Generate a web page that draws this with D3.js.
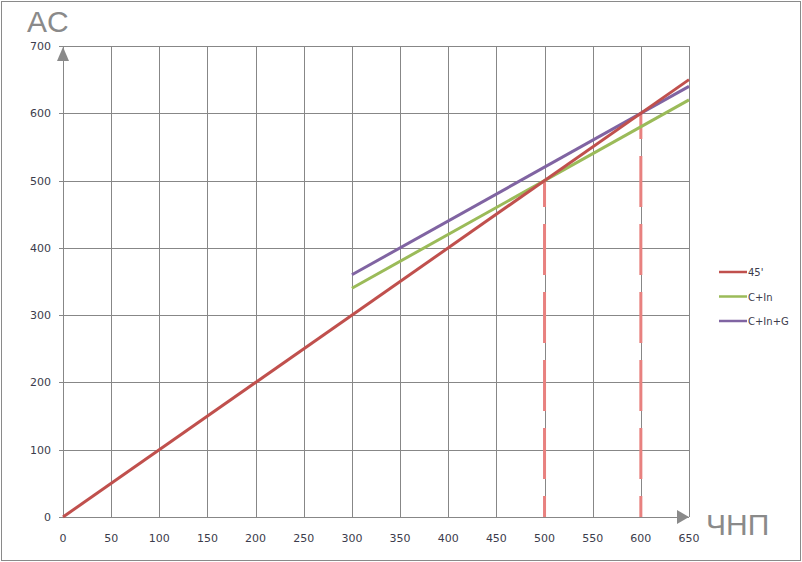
<!DOCTYPE html>
<html><head><meta charset="utf-8">
<script src="https://cdn.jsdelivr.net/npm/d3@7"></script>
<style>body{margin:0;background:#fff}svg{display:block}</style>
</head><body>
<svg id="c" width="802" height="562"></svg>
<script>
// ---- data ----
const seriesNames = ["45'", "C+In", "C+In+G"];
const line45 = [[0, 0], [650, 650]];
const lineCIn = [[300, 340], [650, 620]];
const lineCInG = [[300, 360], [650, 640]];
const dashedX = [500, 600];
const dashedTop = [500, 600];
const xTicks = [0, 50, 100, 150, 200, 250, 300, 350, 400, 450, 500, 550, 600, 650];
const yTicks = [0, 100, 200, 300, 400, 500, 600, 700];
const xAxisLabel = "ЧНП";
const yAxisLabel = "AC";

// ---- layout ----
const svg = d3.select("#c");
const x = d3.scaleLinear().domain([0, 650]).range([63, 689]);
const y = d3.scaleLinear().domain([0, 700]).range([517, 46]);
const colors = ["#C0504D", "#9BBB59", "#8064A2"];
const gridColor = "#878787";
const tickColor = "#3c3c4c";

svg.append("rect").attr("x", 1.5).attr("y", 1.5).attr("width", 799).attr("height", 559)
  .attr("fill", "none").attr("stroke", "#8a8a8a");

// grid
const g = svg.append("g").attr("shape-rendering", "crispEdges");
g.selectAll(".vg").data(xTicks).enter().append("line")
  .attr("x1", d => Math.round(x(d)) + 0.5).attr("x2", d => Math.round(x(d)) + 0.5)
  .attr("y1", y(700)).attr("y2", y(0)).attr("stroke", gridColor);
g.selectAll(".hg").data(yTicks).enter().append("line")
  .attr("x1", x(0) - 4).attr("x2", x(650))
  .attr("y1", d => Math.round(y(d)) + 0.5).attr("y2", d => Math.round(y(d)) + 0.5).attr("stroke", gridColor);

// tick labels
svg.selectAll(".yl").data(yTicks).enter().append("text")
  .attr("x", 51).attr("y", d => y(d) + 4).attr("text-anchor", "end")
  .attr("font-family", "DejaVu Sans").attr("font-size", 11).attr("fill", tickColor).text(d => d);
svg.selectAll(".xl").data(xTicks).enter().append("text")
  .attr("x", d => x(d)).attr("y", 542).attr("text-anchor", "middle")
  .attr("font-family", "DejaVu Sans").attr("font-size", 11).attr("fill", tickColor).text(d => d);

// arrows
const arrowColor = "#8a8a8a";
svg.append("path").attr("d", `M${x(0)},${y(700) + 1} L${x(0) - 6},${y(700) + 15} L${x(0) + 6},${y(700) + 15} Z`).attr("fill", arrowColor);
svg.append("path").attr("d", `M${x(650)},${y(0)} L${x(650) - 12},${y(0) - 7} L${x(650) - 12},${y(0) + 7} Z`).attr("fill", arrowColor);

// axis titles
svg.append("text").attr("x", 27).attr("y", 32).attr("font-family", "Liberation Sans").attr("font-size", 30)
  .attr("fill", "#8a8a8a").text(yAxisLabel);
svg.append("text").attr("x", 706).attr("y", 535).attr("font-family", "Liberation Sans").attr("font-size", 30)
  .attr("fill", "#8a8a8a").text(xAxisLabel);

// dashed verticals
dashedX.forEach((xv, i) => {
  svg.append("line").attr("x1", x(xv)).attr("x2", x(xv)).attr("y1", y(0)).attr("y2", y(dashedTop[i]))
    .attr("stroke", "#E8817F").attr("stroke-width", 3)
    .attr("stroke-dasharray", "51,17").attr("stroke-dashoffset", 30);
});

// lines
const lineGen = d3.line().x(d => x(d[0])).y(d => y(d[1]));
[lineCIn, lineCInG, line45].forEach((data) => {
  const idx = [line45, lineCIn, lineCInG].indexOf(data);
  svg.append("path").datum(data).attr("d", lineGen).attr("fill", "none")
    .attr("stroke", colors[idx]).attr("stroke-width", 3);
});

// legend
const leg = svg.selectAll(".lg").data(seriesNames).enter().append("g")
  .attr("transform", (d, i) => `translate(719,${272 + i * 24.5})`);
leg.append("line").attr("x1", 0).attr("x2", 28).attr("y1", 0).attr("y2", 0)
  .attr("stroke", (d, i) => colors[i]).attr("stroke-width", 2.5);
leg.append("text").attr("x", 29).attr("y", 4).attr("font-family", "DejaVu Sans").attr("font-size", 10)
  .attr("fill", tickColor).text(d => d);
</script>
</body></html>
